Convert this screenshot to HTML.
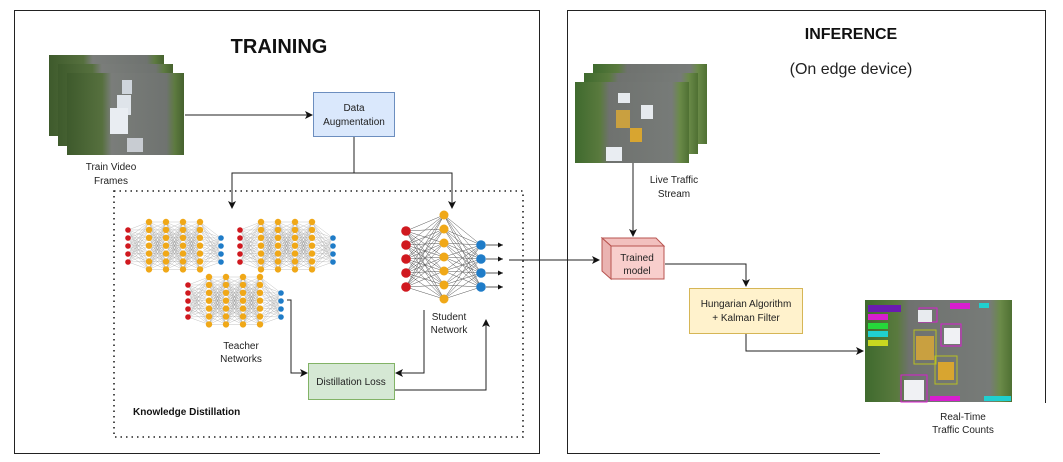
<!DOCTYPE html>
<html><head><meta charset="utf-8"><style>
html,body{margin:0;padding:0;background:#fff;}
svg{display:block;font-family:"Liberation Sans",sans-serif;}
</style></head><body>
<svg id="s" width="1063" height="462" viewBox="0 0 1063 462" xmlns="http://www.w3.org/2000/svg">
<defs>
<marker id="a" markerWidth="8" markerHeight="8" refX="7" refY="4" orient="auto" markerUnits="userSpaceOnUse"><path d="M0,0 L8,4 L0,8 L2,4 z" fill="#111"/></marker>
<marker id="sa" markerWidth="5" markerHeight="5" refX="5" refY="2.5" orient="auto" markerUnits="userSpaceOnUse"><path d="M0,0 L5,2.5 L0,5 z" fill="#111"/></marker>
<linearGradient id="road" x1="0" y1="0" x2="1" y2="0">
<stop offset="0" stop-color="#3e5a2c"/><stop offset="0.3" stop-color="#56703e"/><stop offset="0.38" stop-color="#7a7d7a"/><stop offset="0.85" stop-color="#6f7370"/><stop offset="0.92" stop-color="#5d7a40"/><stop offset="1" stop-color="#46622e"/></linearGradient>
<linearGradient id="road2" x1="0" y1="0" x2="1" y2="0">
<stop offset="0" stop-color="#3f6a2e"/><stop offset="0.22" stop-color="#5a7a3e"/><stop offset="0.3" stop-color="#6f726f"/><stop offset="0.85" stop-color="#777b78"/><stop offset="0.92" stop-color="#6a8a48"/><stop offset="1" stop-color="#4f7033"/></linearGradient>
</defs>
<rect x="14.5" y="10.5" width="525" height="443" fill="none" stroke="#222" stroke-width="1"/>
<rect x="567.5" y="10.5" width="478" height="443" fill="none" stroke="#222" stroke-width="1"/>
<text x="279" y="53" font-size="20" font-weight="bold" text-anchor="middle" fill="#111">TRAINING</text>
<text x="851" y="39" font-size="16" font-weight="bold" text-anchor="middle" fill="#111">INFERENCE</text>
<text x="851" y="74" font-size="16" text-anchor="middle" fill="#222">(On edge device)</text>

<rect x="49" y="55" width="115" height="81" fill="url(#road)"/>
<rect x="58" y="64" width="115" height="82" fill="url(#road)"/>
<rect x="67" y="73" width="117" height="82" fill="url(#road)"/>
<rect x="117" y="95" width="14" height="20" fill="#dfe4ea"/><rect x="110" y="108" width="18" height="26" fill="#e9edf2"/><rect x="127" y="138" width="16" height="14" fill="#c8ccd2"/><rect x="122" y="80" width="10" height="14" fill="#cfd5dc"/>
<text x="111" y="170" font-size="10" text-anchor="middle" fill="#222">Train Video</text>
<text x="111" y="184" font-size="10" text-anchor="middle" fill="#222">Frames</text>

<rect x="313.5" y="92.5" width="81" height="44" fill="#dae8fc" stroke="#6c8ebf"/>
<text x="354" y="111" font-size="10" text-anchor="middle" fill="#222">Data</text>
<text x="354" y="125" font-size="10" text-anchor="middle" fill="#222">Augmentation</text>

<rect x="114" y="191" width="409" height="246" fill="none" stroke="#222" stroke-width="1.6" stroke-dasharray="1.5,4"/>
<text x="133" y="415" font-size="10" font-weight="bold" fill="#111">Knowledge Distillation</text>

<g id="nets"></g>
<text x="241" y="349" font-size="10" text-anchor="middle" fill="#222">Teacher</text>
<text x="241" y="362" font-size="10" text-anchor="middle" fill="#222">Networks</text>
<text x="449" y="320" font-size="10" text-anchor="middle" fill="#222">Student</text>
<text x="449" y="333" font-size="10" text-anchor="middle" fill="#222">Network</text>

<rect x="308.5" y="363.5" width="86" height="36" fill="#d5e8d4" stroke="#82b366"/>
<text x="351" y="385" font-size="10" text-anchor="middle" fill="#222">Distillation Loss</text>

<g fill="none" stroke="#222" stroke-width="1">
<path d="M185,115 H312" marker-end="url(#a)"/>
<path d="M354,137 V173 H232 V208" marker-end="url(#a)"/>
<path d="M354,173 H452 V208" marker-end="url(#a)"/>
<path d="M287,300 H291 V373 H307" marker-end="url(#a)"/>
<path d="M424,310 V373 H396" marker-end="url(#a)"/>
<path d="M395,390 H486 V320" marker-end="url(#a)"/>
<path d="M509,260 H599" marker-end="url(#a)"/>
<path d="M633,163 V236" marker-end="url(#a)"/>
<path d="M665,264 H746 V286" marker-end="url(#a)"/>
<path d="M746,333 V351 H863" marker-end="url(#a)"/>
</g>

<rect x="593" y="64" width="114" height="80" fill="url(#road2)"/>
<rect x="584" y="73" width="114" height="81" fill="url(#road2)"/>
<rect x="575" y="82" width="114" height="81" fill="url(#road2)"/>
<rect x="618" y="93" width="12" height="10" fill="#e6eaee"/><rect x="641" y="105" width="12" height="14" fill="#e6eaee"/><rect x="616" y="110" width="14" height="18" fill="#c9a040"/><rect x="630" y="128" width="12" height="14" fill="#d8a530"/><rect x="606" y="147" width="16" height="14" fill="#e9edf2"/>
<text x="674" y="183" font-size="10" text-anchor="middle" fill="#222">Live Traffic</text>
<text x="674" y="197" font-size="10" text-anchor="middle" fill="#222">Stream</text>

<g stroke="#b85450" stroke-width="1" fill="#f8cecc">
<polygon points="602,238 656,238 664,246 611,246" fill="#f2c0be"/>
<polygon points="602,238 611,246 611,279 602,271" fill="#eab3b1"/>
<rect x="611" y="246" width="53" height="33"/>
</g>
<text x="637" y="261" font-size="10" text-anchor="middle" fill="#222">Trained</text>
<text x="637" y="274" font-size="10" text-anchor="middle" fill="#222">model</text>

<rect x="689.5" y="288.5" width="113" height="45" fill="#fff2cc" stroke="#d6b656"/>
<text x="746" y="307" font-size="10" text-anchor="middle" fill="#222">Hungarian Algorithm</text>
<text x="746" y="321" font-size="10" text-anchor="middle" fill="#222">+ Kalman Filter</text>

<rect x="865" y="300" width="147" height="102" fill="url(#road2)"/>
<g fill="none" stroke-width="1">
<rect x="868" y="305" width="33" height="7" fill="#6a1bb0"/>
<rect x="868" y="314" width="20" height="6" fill="#d81ecf"/>
<rect x="868" y="323" width="20" height="6" fill="#25d83a"/>
<rect x="868" y="331" width="20" height="6" fill="#20d0d0"/>
<rect x="868" y="340" width="20" height="6" fill="#c8d820"/>
<rect x="919" y="308" width="18" height="14" stroke="#d81ecf"/>
<rect x="941" y="324" width="20" height="22" stroke="#d81ecf"/>
<rect x="914" y="330" width="22" height="34" stroke="#b8c020"/>
<rect x="935" y="356" width="22" height="28" stroke="#b8c020"/>
<rect x="901" y="375" width="26" height="27" stroke="#d81ecf"/>
<rect x="950" y="303" width="20" height="6" fill="#d81ecf"/>
<rect x="979" y="303" width="10" height="5" fill="#20d0d0"/>
<rect x="984" y="396" width="27" height="5" fill="#20d0d0"/>
<rect x="930" y="396" width="30" height="5" fill="#d81ecf"/>
</g>
<rect x="918" y="310" width="14" height="12" fill="#e8ebef"/><rect x="944" y="328" width="16" height="16" fill="#f0f1f4"/><rect x="916" y="336" width="18" height="24" fill="#c9a040"/><rect x="938" y="362" width="16" height="18" fill="#d8a530"/><rect x="904" y="380" width="20" height="20" fill="#f0f1f4"/>
<rect x="880" y="403" width="183" height="59" fill="#fff"/>
<text x="963" y="420" font-size="10" text-anchor="middle" fill="#222">Real-Time</text>
<text x="963" y="433" font-size="10" text-anchor="middle" fill="#222">Traffic Counts</text>
</svg>
<script>
(function(){
var NS='http://www.w3.org/2000/svg';
var g=document.getElementById('nets');
function el(tag,attrs){var e=document.createElementNS(NS,tag);for(var k in attrs){e.setAttribute(k,attrs[k]);}g.appendChild(e);return e;}
function col(x,n,y0,dy){var r=[];for(var i=0;i<n;i++){r.push([x,y0+i*dy]);}return r;}
function net(layers,colors,rad,lw,lc){
 var l,i,j,A,B;
 for(l=0;l<layers.length-1;l++){A=layers[l];B=layers[l+1];
  var d='';
  for(i=0;i<A.length;i++){for(j=0;j<B.length;j++){d+='M'+A[i][0]+','+A[i][1]+'L'+B[j][0]+','+B[j][1];}}
  el('path',{d:d,stroke:lc,'stroke-width':lw,fill:'none'});
 }
 for(l=0;l<layers.length;l++){for(i=0;i<layers[l].length;i++){
  el('circle',{cx:layers[l][i][0],cy:layers[l][i][1],r:rad[l],fill:colors[l]});}}
}
function teacher(dx,dy){
 var L=[col(128+dx,5,230+dy,8)];
 var xs=[149,166,183,200];
 for(var i=0;i<xs.length;i++){L.push(col(xs[i]+dx,7,222+dy,7.9));}
 L.push(col(221+dx,4,238+dy,8));
 net(L,['#d0191f','#f0a818','#f0a818','#f0a818','#f0a818','#1f7cc8'],[2.8,3.2,3.2,3.2,3.2,2.8],0.3,'#999');
}
teacher(0,0);teacher(112,0);teacher(60,55);
var S=[col(406,5,231,14),col(444,7,215,14),col(481,4,245,14)];
net(S,['#d0191f','#f0a818','#1f7cc8'],[4.8,4.5,4.8],0.5,'#555');
for(var k=0;k<S[2].length;k++){var p=S[2][k];
 el('line',{x1:p[0]+5,y1:p[1],x2:p[0]+22,y2:p[1],stroke:'#222','stroke-width':0.8,'marker-end':'url(#sa)'});}
})();
</script>
</body></html>
